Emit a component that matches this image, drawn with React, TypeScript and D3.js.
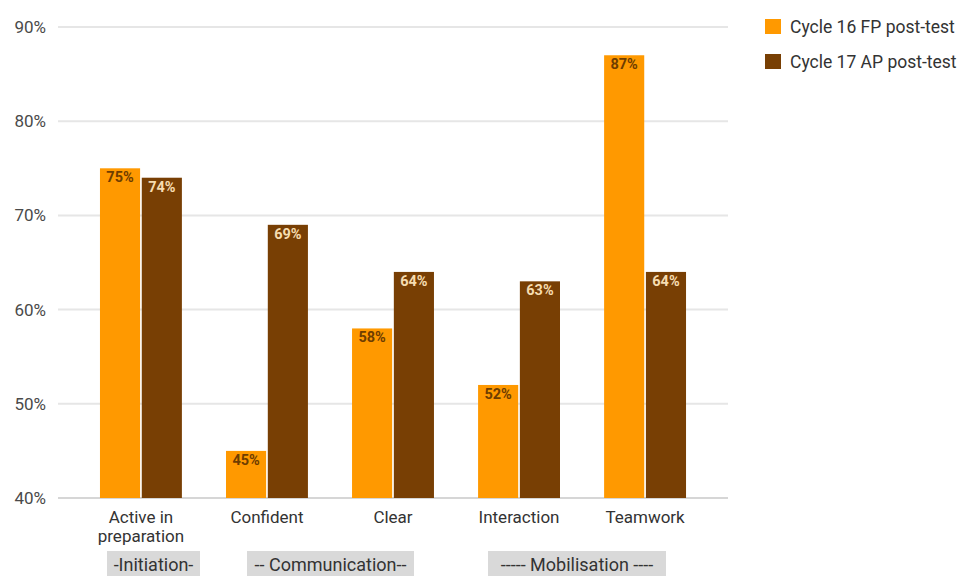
import React from "react";
import * as d3 from "d3";

const categories = ["Active in\npreparation", "Confident", "Clear", "Interaction", "Teamwork"];
const seriesNames = ["Cycle 16 FP post-test", "Cycle 17 AP post-test"];
const cycle16 = [75, 45, 58, 52, 87];
const cycle17 = [74, 69, 64, 63, 64];
const yTicks = [40, 50, 60, 70, 80, 90];
const groups = [
  { label: "-Initiation-", x0: 107, x1: 200 },
  { label: "-- Communication--", x0: 247, x1: 414 },
  { label: "----- Mobilisation ----", x0: 488, x1: 666 },
];

const colors = ["#ff9900", "#783f04"];
const labelColors = ["#6e3d00", "#f6dcb0"];
const W = 967;
const H = 576;
const FONT = "Roboto, 'Noto Sans', sans-serif";

export default function App() {
  const left = 58;
  const right = 728;
  const y = d3.scaleLinear().domain([40, 90]).range([498, 27]);
  const x = d3
    .scaleBand<string>()
    .domain(categories)
    .range([left, right])
    .paddingInner(0.35)
    .paddingOuter(0.333);
  const xs = d3
    .scaleBand<number>()
    .domain([0, 1])
    .range([0, x.bandwidth()])
    .paddingInner(0.04);
  const series = [cycle16, cycle17];

  return (
    <svg
      width={W}
      height={H}
      style={{ position: "absolute", left: 0, top: 0, background: "#fff" }}
      fontFamily={FONT}
    >
      {/* gridlines and y axis */}
      {yTicks.map((t) => (
        <g key={t}>
          <line
            x1={left}
            x2={right}
            y1={y(t)}
            y2={y(t)}
            stroke={t === 40 ? "#d6d6d6" : "#e6e6e6"}
            strokeWidth={2}
          />
          <text
            x={46}
            y={y(t)}
            dy="0.35em"
            textAnchor="end"
            fontSize={17}
            fill="#4a4a4a"
          >
            {t}%
          </text>
        </g>
      ))}

      {/* bars */}
      {categories.map((c, i) => (
        <g key={c} transform={`translate(${x(c)},0)`}>
          {series.map((s, k) => {
            const v = s[i];
            const bx = xs(k) as number;
            const bw = xs.bandwidth();
            return (
              <g key={k}>
                <rect
                  x={bx}
                  y={y(v)}
                  width={bw}
                  height={y(40) - y(v)}
                  fill={colors[k]}
                />
                <text
                  x={bx + bw / 2}
                  y={y(v) + 14}
                  textAnchor="middle"
                  fontSize={14.5}
                  fontWeight={700}
                  fill={labelColors[k]}
                >
                  {v}%
                </text>
              </g>
            );
          })}
        </g>
      ))}

      {/* category labels */}
      {categories.map((c) => {
        const cx = (x(c) as number) + x.bandwidth() / 2;
        const lines = c.split("\n");
        return (
          <text key={c} x={cx} y={523} textAnchor="middle" fontSize={17} fill="#333">
            {lines.map((l, j) => (
              <tspan key={j} x={cx} dy={j === 0 ? 0 : 19}>
                {l}
              </tspan>
            ))}
          </text>
        );
      })}

      {/* grouping labels */}
      {groups.map((g) => (
        <g key={g.label}>
          <rect x={g.x0} y={551} width={g.x1 - g.x0} height={25} fill="#d9d9d9" />
          <text
            x={(g.x0 + g.x1) / 2}
            y={571}
            textAnchor="middle"
            fontSize={18}
            fill="#333"
          >
            {g.label}
          </text>
        </g>
      ))}

      {/* legend */}
      {seriesNames.map((n, k) => (
        <g key={n} transform={`translate(765,${27 + k * 35})`}>
          <rect x={0} y={-8} width={16} height={15} fill={colors[k]} />
          <text x={25} y={0} dy="0.35em" fontSize={17.5} fill="#333">
            {n}
          </text>
        </g>
      ))}
    </svg>
  );
}
